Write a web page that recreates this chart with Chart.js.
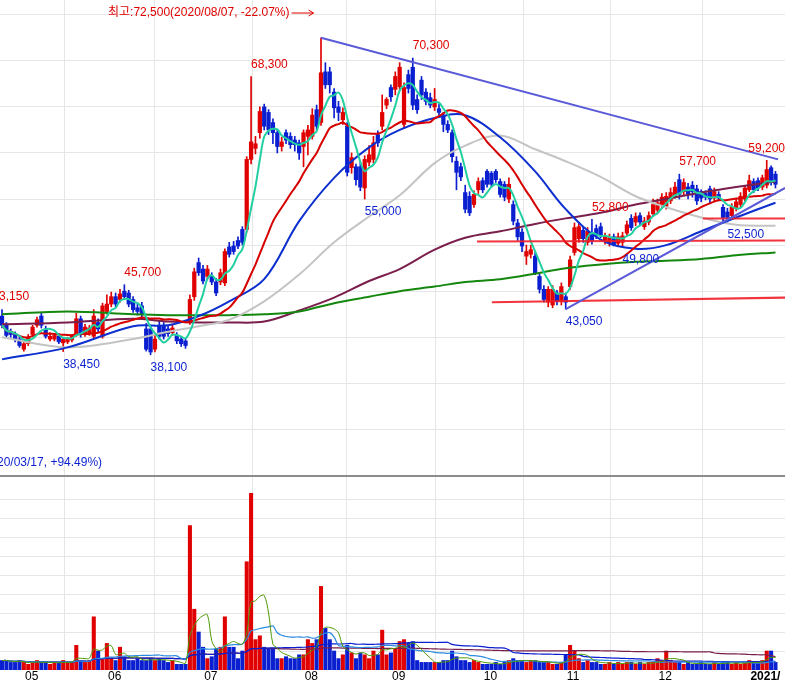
<!DOCTYPE html>
<html>
<head>
<meta charset="utf-8">
<script src="https://cdn.jsdelivr.net/npm/chart.js@4"></script>
<style>
  body { margin: 0; background: #fff; }
  #wrap { position: relative; width: 785px; height: 684px; overflow: hidden; }
  .pane { position: absolute; left: 0; width: 785px; }
  #price { top: 0; height: 475px; }
  #vol { top: 477px; height: 207px; }
  #sep { position: absolute; left: 0; top: 475px; width: 785px; height: 2px; background: #8c8c8c; }
</style>
</head>
<body>
<div id="wrap">
  <div class="pane" id="price"><canvas id="priceChart"></canvas></div>
  <div id="sep"></div>
  <div class="pane" id="vol"><canvas id="volChart"></canvas></div>
</div>
<script>
// daily candles, [open, high, low, close] in thousands of won
const candles = [
  [42.3,43.0,41.0,41.3],[41.3,41.6,39.9,40.2],[40.5,40.9,40.0,40.3],[40.3,40.6,39.5,39.8],[39.8,40.0,38.9,39.1],
  [38.7,39.5,38.5,39.3],[39.3,40.3,39.1,40.0],[40.3,41.3,40.1,41.1],[41.3,42.2,41.1,41.9],[42.3,42.6,41.0,41.3],
  [40.9,41.2,39.9,40.1],[39.8,40.5,39.6,40.1],[39.8,40.4,39.6,40.2],[40.1,40.4,39.3,39.5],[39.4,39.9,38.45,39.8],
  [39.5,40.0,39.3,39.8],[39.7,40.3,39.5,40.1],[40.3,42.6,40.1,42.0],[42.0,42.3,40.0,40.3],[40.3,41.4,40.1,41.1],
  [40.4,41.3,40.2,41.0],[40.1,43.0,39.9,42.3],[41.6,42.0,40.6,40.9],[40.1,43.7,39.9,43.4],[42.8,44.6,42.5,43.6],
  [43.6,44.9,43.3,44.4],[44.4,44.8,43.3,43.6],[44.1,45.2,43.8,44.7],[45.0,45.7,44.1,44.4],[44.8,45.1,43.3,43.6],
  [44.1,44.4,42.7,43.0],[43.2,43.6,42.4,42.8],[43.4,43.8,42.0,42.5],[40.9,41.5,38.5,38.7],[40.9,41.3,38.1,38.4],
  [38.7,40.2,38.4,39.8],[41.3,41.8,39.8,40.1],[41.3,41.6,39.8,40.1],[40.9,41.2,40.1,40.4],[40.5,41.4,40.2,41.0],
  [40.2,40.5,39.3,39.6],[39.8,40.1,39.0,39.3],[39.6,39.9,38.8,39.1],[41.7,44.6,41.4,44.1],[44.4,47.5,44.0,47.1],
  [48.1,48.6,46.7,47.0],[47.4,47.8,45.8,46.1],[46.6,47.8,46.3,47.4],[46.6,47.0,45.7,46.0],[46.0,46.4,44.5,44.8],
  [46.0,47.4,45.7,47.0],[45.9,49.6,45.6,49.3],[49.8,50.3,48.7,49.0],[49.9,50.4,49.0,49.3],[50.5,50.9,49.6,49.9],
  [51.7,52.0,50.0,50.3],[51.7,59.6,51.4,59.3],[59.3,68.3,58.8,61.2],[60.5,61.8,59.9,61.0],[62.2,65.0,61.6,64.5],
  [65.0,65.3,62.5,62.9],[64.4,64.7,62.0,62.5],[63.3,63.7,61.0,62.2],[62.2,62.5,60.0,60.7],[60.7,61.7,60.2,61.2],
  [62.2,62.5,61.0,61.4],[61.8,62.2,60.5,60.9],[61.4,61.8,60.2,60.9],[61.1,61.4,59.3,60.0],[60.7,62.5,58.5,62.2],
  [61.8,63.0,59.8,62.5],[61.8,64.8,61.5,64.1],[64.7,65.2,62.5,62.9],[63.3,72.5,63.0,68.7],[68.8,69.8,67.0,67.4],
  [68.8,69.3,66.5,67.4],[66.6,67.0,63.8,64.9],[65.0,65.6,63.5,64.4],[63.6,64.9,63.1,64.4],[62.9,63.3,57.5,57.9],
  [58.4,60.0,57.8,59.5],[58.5,58.8,56.5,57.1],[58.5,59.0,55.9,56.3],[56.2,59.7,55.0,59.3],[59.0,60.8,58.6,59.8],
  [59.3,61.8,58.9,61.1],[62.0,62.4,60.7,61.1],[62.9,66.3,62.5,64.4],[65.2,66.0,64.8,65.8],[67.1,67.4,65.6,66.1],
  [66.9,68.8,66.3,68.3],[67.2,69.8,66.8,69.3],[63.1,67.6,62.7,67.1],[68.5,69.0,66.5,67.0],[69.3,70.3,64.7,65.2],
  [65.8,66.3,64.3,64.7],[67.9,68.3,65.8,66.3],[66.6,67.0,65.2,65.6],[66.0,66.5,64.9,65.2],[65.0,67.0,64.6,65.8],
  [64.8,65.3,64.0,64.4],[64.1,64.4,62.3,63.1],[63.1,63.5,62.2,62.5],[62.2,62.5,59.0,59.6],[59.1,59.6,56.0,57.9],
  [58.5,58.9,57.0,57.4],[55.7,56.5,53.5,53.9],[55.3,55.8,53.2,53.5],[54.4,55.9,54.1,55.5],[56.0,57.3,55.6,56.9],
  [57.0,57.3,55.7,56.0],[58.0,58.2,56.3,56.6],[57.8,58.0,56.3,56.6],[58.0,58.2,56.8,57.1],[56.9,57.2,55.2,55.5],
  [56.6,56.9,54.8,55.2],[55.0,57.3,54.6,56.6],[54.4,54.8,52.2,52.6],[52.4,52.8,50.5,50.9],[51.4,51.8,49.3,49.9],
  [48.8,50.0,47.9,49.3],[49.0,50.0,48.6,49.5],[48.8,49.2,46.8,47.0],[46.6,47.0,44.8,45.2],[45.2,45.6,43.8,44.1],
  [43.8,45.5,43.3,45.2],[43.5,45.6,43.2,45.2],[44.8,45.1,43.5,43.9],[43.9,45.9,43.5,45.5],[44.4,44.8,43.05,43.8],
  [45.5,48.8,45.2,48.4],[49.2,52.4,48.9,51.9],[50.7,52.4,50.3,52.0],[51.6,52.0,50.3,50.7],[50.3,51.9,50.0,51.5],
  [51.3,52.8,50.1,50.5],[51.8,52.2,50.7,51.1],[52.0,52.4,50.8,51.1],[50.4,51.3,50.1,50.9],[50.2,51.2,49.9,50.8],
  [50.9,51.2,49.9,50.0],[50.2,51.3,49.9,50.9],[50.3,51.4,49.8,51.0],[51.3,52.6,51.0,52.2],[52.9,53.3,51.6,51.9],
  [52.5,53.5,52.1,53.1],[53.2,53.5,52.2,52.5],[52.0,53.0,51.7,52.6],[52.5,53.6,52.2,53.2],[53.4,55.0,53.1,54.4],
  [53.8,55.0,53.4,54.6],[54.4,55.6,54.0,55.2],[54.2,55.7,53.9,55.3],[54.8,56.2,54.5,55.7],[55.4,56.8,55.1,56.3],
  [57.1,57.7,55.0,55.5],[55.8,57.2,55.4,56.8],[56.3,56.7,55.0,55.5],[56.5,56.9,55.2,55.8],[56.1,56.5,54.4,54.8],
  [55.8,56.0,54.7,55.1],[55.6,55.9,54.9,55.2],[56.1,56.4,54.6,55.0],[55.1,56.2,54.8,55.8],[55.5,55.8,54.8,55.1],
  [54.1,54.4,52.6,53.0],[53.6,54.0,52.5,53.0],[53.2,54.5,52.9,54.1],[54.0,55.0,53.7,54.7],[54.4,55.7,54.1,55.3],
  [55.0,56.5,54.7,56.2],[56.0,57.6,55.8,57.0],[56.9,57.2,55.7,56.0],[57.0,57.3,55.9,56.2],[56.3,57.6,56.0,57.3],
  [56.5,59.2,56.2,58.2],[58.4,58.6,56.5,56.8],[57.7,58.0,56.2,56.6]
];
// volume in grid units
const volume = [
  0.5,0.5,0.4,0.4,0.5, 0.4,0.3,0.4,0.5,0.4,0.4,0.3,0.4,0.4,0.5,0.4,0.4, 1.3, 0.5,0.4,0.5, 2.8,1.0,0.6,1.4, 0.6,0.5, 1.2,
  0.7,0.5,0.5,0.6,0.5,0.5,0.6,0.5, 0.6, 0.5,0.4,0.5,0.3,0.3,0.3,
  7.6,3.2,2.0,1.2,0.6,0.7,1.1,1.2,2.8,1.2,1.2,0.6,1.0,5.7,9.3,1.6,1.8,1.2,1.1,1.1,0.6,0.6,0.7,0.6,0.6,0.8,0.8,
  1.6,1.4,1.6,4.4,2.2,1.6,1.0,0.6,0.8,1.3,0.9,0.6,0.9,0.8,0.6,1.0,0.8,2.1,0.8,0.9,1.1,1.5,1.6,1.4,1.5,
  0.5,0.4,0.4,0.4,0.4,0.4,0.5,0.5, 1.0,0.7, 0.5,0.5,0.4,0.5,0.4,0.3,0.3,0.3,0.4,0.3,0.4,0.5, 0.6,
  0.5,0.5,0.4,0.5,0.5,0.4,0.4,0.4,0.3,0.3,0.4, 0.8,1.3,1.0,0.6,
  0.4,0.5,0.4,0.4,0.3,0.3,0.4,0.3,0.4,0.3,0.4,0.4,0.3,0.4,0.3,0.4,0.4, 0.6,0.5,1.0,0.5,
  0.4,0.4,0.3,0.4,0.3,0.3,0.4,0.3,0.3,0.4,0.3,0.4,0.4,0.3,0.4,0.3,0.4,0.5,0.4,0.4,0.5, 1.0,1.0,0.4
];
// longer moving averages at these candle indexes
const maIndex  = [0,15,30,38,45,52,60,68,76,84,91,99,106,114,122,129,137,145,152,160,168,177];
const ma60     = [37.6,38.9,41.2,41.3,42.3,43.9,46.3,52.6,57.3,60.6,62.5,63.8,64.1,61.7,58.0,53.9,50.6,49.6,50.0,51.5,53.0,54.6];
const ma120    = [40.0,38.9,39.8,40.6,41.2,41.9,43.9,46.8,50.3,53.1,55.4,58.9,60.8,61.9,60.4,59.1,57.4,55.3,54.1,53.0,52.2,52.1];
const maPurple = [41.4,41.6,42.0,41.7,41.6,41.6,41.7,42.9,44.3,46.1,47.4,49.5,50.8,51.5,52.3,52.9,53.5,54.4,55.0,55.7,56.3,56.9];
const maGreen  = [42.5,42.8,42.5,42.4,42.4,42.4,42.5,42.8,43.7,44.4,45.0,45.5,46.0,46.3,46.9,47.5,47.9,48.2,48.3,48.5,48.9,49.2];
// drawn trend and support lines: [i1, p1, i2, p2]
const trendLines = [[73,72.5,177.6,59.3],[129,43.05,179.2,56.2]];
const supportLines = [[108.7,50.4,179.2,50.5],[112.1,43.8,179.2,44.3],[160.4,52.9,179.2,52.9]];
const monthStart = [5,24,46,69,89,110,129,150,171];
const monthLabel = ['05','06','07','08','09','10','11','12','2021/'];
// [index, price, text, high|low]
const markers = [
  [-2.2,43.15,'43,150','hi'],[28,45.7,'45,700','hi'],[57,68.3,'68,300','hi'],[94,70.3,'70,300','hi'],
  [135,52.8,'52,800','hi'],[155,57.7,'57,700','hi'],[175,59.2,'59,200','hi'],
  [14,38.45,'38,450','lo'],[34,38.1,'38,100','lo'],[83,55.0,'55,000','lo'],[129,43.05,'43,050','lo'],
  [142,49.8,'49,800','lo'],[166,52.5,'52,500','lo']
];

const RED = '#e00000', BLUE = '#0a1fd0';
const FONT = '12px "Liberation Sans", "Noto Sans CJK KR", sans-serif';
const X_MIN = -0.458, X_MAX = 179.18;

function movingAvg(vals, n) {
  return vals.map((v, i) => {
    const s = vals.slice(Math.max(0, i - n + 1), i + 1);
    return s.reduce((a, b) => a + b, 0) / s.length;
  });
}

const close = candles.map(c => c[3]);
const up = candles.map(c => c[3] >= c[0]);
const candleColor = up.map(u => u ? RED : BLUE);
const pts = (vals) => vals.map((v, k) => ({ x: maIndex[k], y: v }));
const monthGrid = monthStart.map(m => m - 0.2);

function xAxis() {
  return {
    type: 'linear', min: X_MIN, max: X_MAX, offset: false,
    ticks: { display: false },
    border: { display: false },
    grid: { color: '#e6e6e6', drawTicks: false },
    afterBuildTicks: ax => { ax.ticks = monthGrid.map(v => ({ value: v })) }
  };
}

const priceLabels = {
  id: 'priceLabels',
  afterDatasetsDraw(chart) {
    const { ctx, scales: { x, y } } = chart;
    ctx.save();
    ctx.font = FONT;
    ctx.textBaseline = 'middle';
    markers.forEach(([i, p, t, kind]) => {
      let px = x.getPixelForValue(i);
      const w = ctx.measureText(t).width;
      if (px + w > 785) px = 785 - w;
      const py = y.getPixelForValue(p) + (kind === 'hi' ? -12 : 13);
      ctx.fillStyle = kind === 'hi' ? RED : BLUE;
      ctx.fillText(t, px, py);
    });
    ctx.fillStyle = RED;
    const top = '최고:72,500(2020/08/07, -22.07%)';
    ctx.fillText(top, 108, 13);
    const tw = ctx.measureText(top).width;
    ctx.strokeStyle = RED;
    ctx.lineWidth = 1;
    ctx.beginPath();
    ctx.moveTo(110 + tw, 13); ctx.lineTo(132 + tw, 13);
    ctx.moveTo(127 + tw, 10); ctx.lineTo(132 + tw, 13); ctx.lineTo(127 + tw, 16);
    ctx.stroke();
    ctx.fillStyle = BLUE;
    ctx.fillText('20/03/17, +94.49%)', -3, 463);
    ctx.restore();
  }
};

const lineDs = (label, data, color, width, order) => ({
  type: 'line', label, data, borderColor: color, borderWidth: width,
  pointRadius: 0, tension: 0.35, fill: false, order
});

new Chart(document.getElementById('priceChart'), {
  type: 'bar',
  data: {
    datasets: [
      { label: 'wick', data: candles.map((c, i) => ({ x: i, y: [c[2], c[1]] })),
        backgroundColor: candleColor, barThickness: 1, grouped: false, order: 10 },
      { label: 'body', data: candles.map((c, i) => ({ x: i, y: [c[0], c[3]] })),
        backgroundColor: candleColor, barThickness: 3.6, minBarLength: 1, grouped: false, order: 9 },
      lineDs('MA120', pts(ma120), '#c4c4c4', 2, 5),
      lineDs('MA240', pts(maGreen), '#14880e', 2, 5),
      lineDs('MA120b', pts(maPurple), '#7a1e4c', 2, 5),
      lineDs('MA60', pts(ma60), '#0d2fcf', 2, 4),
      lineDs('MA20', movingAvg(close, 20).map((v, i) => ({ x: i, y: v })), '#d60000', 2, 3),
      lineDs('MA5', movingAvg(close, 5).map((v, i) => ({ x: i, y: v })), '#22cfa0', 2, 2),
      ...trendLines.map(l => ({ ...lineDs('trend', [{ x: l[0], y: l[1] }, { x: l[2], y: l[3] }], '#5a5ad8', 2, 1), tension: 0 })),
      ...supportLines.map(l => ({ ...lineDs('support', [{ x: l[0], y: l[1] }, { x: l[2], y: l[3] }], 'rgba(240,30,40,0.9)', 2, 1), tension: 0 }))
    ]
  },
  options: {
    responsive: true,
    maintainAspectRatio: false,
    animation: false,
    layout: { padding: 0 },
    plugins: { legend: { display: false }, tooltip: { enabled: false } },
    scales: {
      x: xAxis(),
      // price in thousands
      y: {
        min: 25.05, max: 76.6,
        ticks: { display: false },
        border: { display: false },
        grid: { color: '#e6e6e6', drawTicks: false },
        afterBuildTicks: ax => { ax.ticks = [30,35,40,45,50,55,60,65,70,75].map(v => ({ value: v })) }
      }
    }
  },
  plugins: [priceLabels]
});

const monthText = {
  id: 'monthText',
  afterDraw(chart) {
    const { ctx, scales: { x } } = chart;
    ctx.save();
    ctx.textBaseline = 'middle';
    ctx.fillStyle = '#000';
    monthStart.forEach((m, k) => {
      ctx.font = k === monthStart.length - 1 ? 'bold ' + FONT : FONT;
      ctx.fillText(monthLabel[k], x.getPixelForValue(m - 0.2) + 2, 200);
    });
    ctx.restore();
  }
};

new Chart(document.getElementById('volChart'), {
  type: 'bar',
  data: {
    datasets: [
      { label: 'volume', data: volume.map((v, i) => ({ x: i, y: v })),
        backgroundColor: candleColor, barThickness: 3.4, grouped: false, order: 10 },
      lineDs('v5', movingAvg(volume, 5).map((v, i) => ({ x: i, y: v })), '#4e9a06', 1, 1),
      lineDs('v20', movingAvg(volume, 20).map((v, i) => ({ x: i, y: v })), '#2b8be0', 1.2, 2),
      lineDs('v60', movingAvg(volume, 60).map((v, i) => ({ x: i, y: v })), '#0a1fd0', 1.2, 3),
      lineDs('v120', movingAvg(volume, 120).map((v, i) => ({ x: i, y: v })), '#7a1e4c', 1.2, 4)
    ]
  },
  options: {
    responsive: true,
    maintainAspectRatio: false,
    animation: false,
    layout: { padding: { bottom: 14 } },
    plugins: { legend: { display: false }, tooltip: { enabled: false } },
    scales: {
      x: xAxis(),
      y: {
        min: 0, max: 10.16,
        ticks: { display: false },
        border: { display: false },
        grid: { color: '#e6e6e6', drawTicks: false },
        afterBuildTicks: ax => { ax.ticks = [1,2,3,4,5,6,7,8,9].map(v => ({ value: v })) }
      }
    }
  },
  plugins: [monthText]
});
</script>
</body>
</html>
